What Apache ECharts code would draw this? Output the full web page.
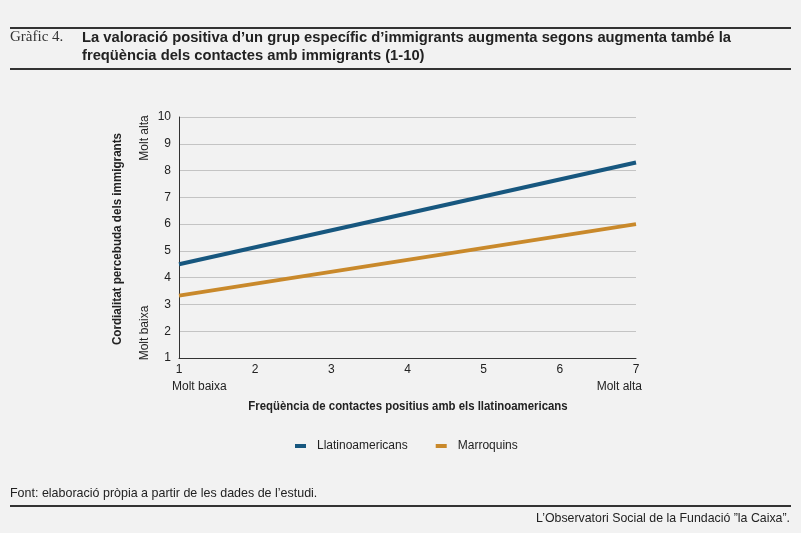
<!DOCTYPE html>
<html>
<head>
<meta charset="utf-8">
<script src="https://cdn.jsdelivr.net/npm/echarts@6/dist/echarts.min.js"></script>
<style>
  html, body { margin: 0; padding: 0; background: #f2f2f2; }
  #chart { width: 801px; height: 533px; }
</style>
</head>
<body>
<div id="chart"></div>
<script>
// contact frequency (1-7) and perceived cordiality (1-10), end points of each fitted line
const xValues = [1, 7];
const llatinoamericans = [4.5, 8.3];
const marroquins = [3.33, 6.0];
const seriesNames = ['Llatinoamericans', 'Marroquins'];
const colors = ['#17577f', '#c9892b'];

const sans = '"Liberation Sans", Arial, sans-serif';

const chart = echarts.init(document.getElementById('chart'));

function pairs(ys) {
    return xValues.map((x, i) => [x, ys[i]]);
}

const option = {
    backgroundColor: '#f2f2f2',
    animation: false,
    grid: { left: 179, right: 165, top: 117, bottom: 175 },
    legend: {
        left: 290,
        top: 435,
        icon: 'rect',
        itemWidth: 11,
        itemHeight: 4,
        itemGap: 28,
        textStyle: { fontFamily: sans, fontSize: 12, color: '#222', padding: [0, 0, 0, 6] },
        data: seriesNames
    },
    xAxis: {
        type: 'value',
        min: 1,
        max: 7,
        interval: 1,
        axisLine: { lineStyle: { color: '#333', width: 1 } },
        axisTick: { show: false },
        splitLine: { show: false },
        axisLabel: { fontFamily: sans, fontSize: 12, color: '#222', margin: 6 }
    },
    yAxis: {
        type: 'value',
        min: 1,
        max: 10,
        interval: 1,
        axisLine: { show: true, lineStyle: { color: '#333', width: 1 } },
        axisTick: { show: false },
        splitLine: { lineStyle: { color: '#c4c4c4', width: 1 } },
        axisLabel: { fontFamily: sans, fontSize: 12, color: '#222', margin: 8 }
    },
    series: [
        {
            name: seriesNames[0],
            type: 'line',
            data: pairs(llatinoamericans),
            showSymbol: false,
            lineStyle: { color: colors[0], width: 4 },
            itemStyle: { color: colors[0] }
        },
        {
            name: seriesNames[1],
            type: 'line',
            data: pairs(marroquins),
            showSymbol: false,
            lineStyle: { color: colors[1], width: 4 },
            itemStyle: { color: colors[1] }
        }
    ],
    graphic: [
        // header rules
        { type: 'rect', shape: { x: 10, y: 27, width: 781, height: 2 }, style: { fill: '#333' } },
        { type: 'rect', shape: { x: 10, y: 68, width: 781, height: 2 }, style: { fill: '#333' } },
        {
            type: 'text', x: 10, y: 30,
            style: { text: 'Gràfic 4.', fontFamily: '"Liberation Serif", serif', fontSize: 15, fill: '#333' }
        },
        {
            type: 'text', x: 82, y: 29, scaleX: 0.983,
            style: {
                text: 'La valoració positiva d\u2019un grup específic d\u2019immigrants augmenta segons augmenta també la\nfreqüència dels contactes amb immigrants (1-10)',
                fontFamily: sans, fontSize: 15, fontWeight: 'bold', fill: '#222', lineHeight: 18
            }
        },
        // y axis name and scale hints
        {
            type: 'text', x: 118, y: 239, rotation: Math.PI / 2, scaleX: 0.97,
            style: {
                text: 'Cordialitat percebuda dels immigrants',
                fontFamily: sans, fontSize: 12, fontWeight: 'bold', fill: '#222',
                align: 'center', verticalAlign: 'middle'
            }
        },
        {
            type: 'text', x: 145, y: 138, rotation: Math.PI / 2,
            style: { text: 'Molt alta', fontFamily: sans, fontSize: 12, fill: '#222', align: 'center', verticalAlign: 'middle' }
        },
        {
            type: 'text', x: 145, y: 333, rotation: Math.PI / 2,
            style: { text: 'Molt baixa', fontFamily: sans, fontSize: 12, fill: '#222', align: 'center', verticalAlign: 'middle' }
        },
        // x axis scale hints and name
        {
            type: 'text', x: 172, y: 387,
            style: { text: 'Molt baixa', fontFamily: sans, fontSize: 12, fill: '#222', verticalAlign: 'middle' }
        },
        {
            type: 'text', x: 642, y: 387,
            style: { text: 'Molt alta', fontFamily: sans, fontSize: 12, fill: '#222', align: 'right', verticalAlign: 'middle' }
        },
        {
            type: 'text', x: 408, y: 407, scaleX: 0.95,
            style: {
                text: 'Freqüència de contactes positius amb els llatinoamericans',
                fontFamily: sans, fontSize: 12, fontWeight: 'bold', fill: '#222',
                align: 'center', verticalAlign: 'middle'
            }
        },
        // footer
        {
            type: 'text', x: 10, y: 493, scaleX: 0.96,
            style: { text: 'Font: elaboració pròpia a partir de les dades de l\u2019estudi.', fontFamily: sans, fontSize: 13, fill: '#222', verticalAlign: 'middle' }
        },
        { type: 'rect', shape: { x: 10, y: 505, width: 781, height: 2 }, style: { fill: '#333' } },
        {
            type: 'text', x: 790, y: 518, scaleX: 0.95,
            style: { text: 'L\u2019Observatori Social de la Fundació \u201dla Caixa\u201d.', fontFamily: sans, fontSize: 13, fill: '#222', align: 'right', verticalAlign: 'middle' }
        }
    ]
};

chart.setOption(option);
</script>
</body>
</html>
